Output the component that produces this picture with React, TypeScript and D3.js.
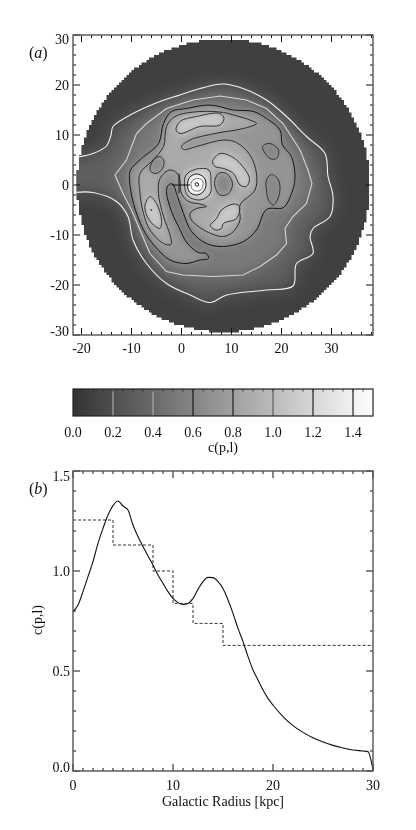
import React from "react";
import * as d3 from "d3";

type P = [number, number];

// contour traces in kpc
const contour02: P[] = [[-21.6,5.5],[-18,6.3],[-15.3,7.8],[-14.4,10],[-14,11.7],[-10,14.3],[-4.6,16.7],[-0.6,18],[3.4,19.3],[8,20.2],[12,19.3],[16.7,17],[20.7,13.7],[24.7,9.7],[28.4,6.3],[29,1.7],[30,-2.3],[29.4,-6.3],[26,-8.7],[25.4,-10.3],[26,-13.7],[22.7,-15.7],[22,-20.2],[16.7,-21],[8.7,-22],[5.4,-23.5],[1.4,-22],[-3.3,-19.7],[-7.3,-15.7],[-10,-11],[-11,-6.3],[-13.3,-3.3],[-18,-1.5],[-21.6,-1.5]];
const contour04: P[] = [[-13.6,2],[-11.3,5],[-9.3,10.3],[-7.3,12.3],[-3.3,15.3],[2,17],[7.4,17.8],[12.7,17],[16.7,15.3],[20,12.3],[23.4,7],[25,3],[25.8,0.3],[24.7,-3.7],[22,-6.3],[20.4,-8.7],[20.7,-11.7],[18.7,-14],[15.4,-16.3],[12,-18],[6,-18.3],[0,-18],[-3.3,-17.3],[-6.6,-13.7],[-8.6,-9],[-10.3,-5],[-12,-1.7]];
const contour06: P[] = [[-10.5,3],[-10.7,1],[-9.9,-3.7],[-7.9,-9],[-5.6,-12.3],[-2.6,-15],[0.7,-15.7],[3.4,-15],[5.1,-14.7],[4.7,-13.7],[3.1,-13.5],[0.9,-11.7],[-0.9,-8.3],[-2.3,-5.3],[-3.3,-1.3],[-2.9,0],[-2.1,0.2],[-1.1,-2.3],[0.1,-5.7],[1.7,-9.3],[4.7,-11.7],[8.1,-12.3],[12.1,-11.3],[14.7,-9],[16.7,-4.9],[20.1,-4.5],[21.7,-1.7],[22.4,1.3],[21.7,5.7],[19.9,8],[19.4,11],[16.7,13.3],[14.1,14.7],[10.1,15],[5.4,16],[0.7,15.3],[-2.3,14.7],[-3.9,12.3],[-4.9,8.3],[-8.3,5.3]];
const contour08: P[] = [[-4.9,-1.7],[-4.6,1.3],[-2.6,3],[-0.9,2],[-0.3,-1.7],[1.1,-3.3],[3.4,-3.8],[4.7,-4.3],[2.7,-4.7],[1.4,-5.7],[1.7,-7],[4.7,-9.3],[8.1,-10.3],[10.1,-9.3],[11.4,-7],[11.4,-4],[14.4,-1],[14.7,2.3],[13.4,6],[10.7,8.5],[8.1,9],[2.7,7.7],[0.1,7.1],[-0.3,7.7],[1.4,9],[6.4,10.3],[12.1,11.3],[14.7,12.3],[13.4,13],[10.1,14],[8.1,14.5],[3.4,14.7],[-1.6,13.7],[-3.3,11.7],[-3.9,7.7],[-6.3,4.7],[-8.6,2.3],[-8.6,-1.7],[-7.9,-5.7],[-6.6,-9],[-3.9,-11.7],[-2.4,-11.9],[-2.5,-10.3],[-3.9,-6.3]];
const holes: P[][] = [
  [[-6.6,3],[-5.9,5],[-4.6,5.7],[-3.8,4.7],[-4.3,3],[-5.6,2.3]],
  [[15.9,7.7],[17.4,8.3],[19.1,7],[18.7,5.3],[17.4,5.3]],
  [[16.7,1],[17.7,2.1],[19.1,1],[19.3,-1.7],[18.1,-4],[17.1,-3],[16.7,-1]],
  [[6.3,0.3],[7.1,2.3],[8.7,2.3],[9.9,0.3],[9.1,-1.7],[7.4,-2]],
];
const brights: P[][] = [
  [[-1.4,11],[-0.6,12.7],[2.7,13.7],[7.4,14.3],[8.2,13.3],[7.4,12],[3.4,11.7],[-0.6,10.3]],
  [[-7.6,-4],[-6.6,-2.3],[-5.3,-3.7],[-4.3,-7],[-4.6,-8.7],[-5.9,-8],[-7.3,-6]],
  [[5.9,4.7],[7.4,6.3],[9.7,5.7],[11.7,4],[13.3,1.3],[12.7,-0.3],[11.4,0],[10.1,2.3],[8.1,3.3],[6.4,3.7]],
  [[5.7,-7.7],[6.7,-6.7],[7.7,-5],[10.1,-3.8],[11.3,-4.3],[10.7,-6.7],[8.1,-7.7],[7.7,-8.7],[6.4,-9],[5.4,-8]],
];
const rings: P[][] = [
  [[0.3,0],[0.6,2],[2.7,3.2],[5.2,3],[5.6,0.5],[5.4,-1.8],[3.4,-3],[1,-2.2]],
  [[0.9,0],[1.3,1.5],[2.7,2.2],[4.2,1.5],[4.6,0],[4,-1.4],[2.7,-2],[1.3,-1.4]],
  [[1.6,0.1],[2,1],[2.9,1.3],[3.8,1],[4,0],[3.6,-1],[2.7,-1.2],[1.9,-0.9]],
  [[2.5,0.4],[3,0.4],[3.1,-0.1],[2.6,-0.2]],
];
const ringFillValues = [1.2, 1.4, 1.5, 1.5];
const ringStrokes = ["#333", "#111", "#777", "#111"];
const sunMarkH: P[] = [[-2.3,0],[1.4,0]];
const sunMarkV: P[] = [[-0.8,2.2],[-0.8,-1.7]];
const speck: P[] = [[-6.5,-4.9],[-6.2,-5.1]];

const discCentre: P = [8.1, -0.1];
const discRadius = 29.3;
const traceShift = 0.3; // traces were read 0.3 kpc west of the tick origin

// panel (b)
const radiusKpc = [0,0.5,1,1.5,2,2.5,3,3.5,4,4.5,5,5.5,6,6.5,7,7.5,8,8.5,9,9.5,10,10.5,11,11.5,12,12.5,13,13.5,14,14.5,15,15.5,16,16.5,17,17.5,18,18.5,19,19.5,20,21,22,23,24,25,26,27,28,29,29.5,30];
const contrast = [0.797,0.83,0.897,0.972,1.047,1.138,1.213,1.28,1.327,1.35,1.325,1.305,1.23,1.172,1.122,1.075,1.03,0.98,0.938,0.897,0.863,0.842,0.833,0.838,0.863,0.908,0.947,0.968,0.967,0.947,0.913,0.855,0.788,0.713,0.647,0.572,0.505,0.455,0.405,0.363,0.33,0.272,0.227,0.193,0.166,0.145,0.128,0.115,0.105,0.1,0.097,0.005];
const binEdges = [0,4,8,10,12,15,30];
const binValues = [1.255,1.13,1.0,0.838,0.738,0.628];

const barTicks = [0,0.2,0.4,0.6,0.8,1.0,1.2,1.4];
const barLevelColors = ["none","#b0b0b0","#b0b0b0","#111","#111","#555","#111","#111"];
const xTicksA = [-20,-10,0,10,20,30];
const yTicksA = [-30,-20,-10,0,10,20,30];
const xTicksB = [0,10,20,30];
const yTicksB = [0,0.5,1.0,1.5];

const FRAME = "#555";
const FONT = "'Liberation Serif', serif";
const TXT = "#111";

const xa = d3.scaleLinear().domain([-21.7, 38.3]).range([73, 373]);
const ya = d3.scaleLinear().domain([-30, 30]).range([335, 35]);
const xb = d3.scaleLinear().domain([0, 30]).range([73, 373]);
const yb = d3.scaleLinear().domain([0, 1.5]).range([771, 471]);
const xbar = d3.scaleLinear().domain([0, 1.5]).range([73, 373]);
const gray = d3.scaleLinear<string>().domain([0, 1.5]).range(["#333333", "#ffffff"]);

const px = (d: P) => xa(d[0] + traceShift);
const py = (d: P) => ya(d[1]);
const smooth = d3.line<P>().x(px).y(py).curve(d3.curveCatmullRomClosed.alpha(0.5));
const jagged = d3.line<P>().x(px).y(py).curve(d3.curveCatmullRom.alpha(0.5));
const closedJag = d3.line<P>().x(px).y(py).curve(d3.curveLinearClosed);
const straight = d3.line<P>().x(px).y(py);

// the map is built of 0.5 kpc cells, so the disc edge is a staircase
const CELL = 0.5;
const discPath = d3.range(-30, 30, CELL).map(v => {
  const mid = v + CELL / 2 - discCentre[1];
  if (Math.abs(mid) >= discRadius) return "";
  const half = Math.sqrt(discRadius * discRadius - mid * mid);
  const x0 = Math.round((discCentre[0] + traceShift - half) / CELL) * CELL;
  const x1 = Math.round((discCentre[0] + traceShift + half) / CELL) * CELL;
  return `M${xa(x0)} ${ya(v)}H${xa(x1)}V${ya(v + CELL)}H${xa(x0)}Z`;
}).join("");

function Frame({ x, y, mLen, nLen, xMajor, xMinor, yMajor, yMinor }: any) {
  const [x0, x1] = x.range();
  const [y0, y1] = y.range();
  const ticks: React.ReactElement[] = [];
  const add = (k: string, a: number, b: number, c: number, d: number) =>
    ticks.push(<line key={k} x1={a} y1={b} x2={c} y2={d} stroke="#111" strokeWidth={1} />);
  xMajor.forEach((t: number) => { add(`xb${t}`, x(t), y0, x(t), y0 - mLen); add(`xt${t}`, x(t), y1, x(t), y1 + mLen); });
  xMinor.forEach((t: number) => { add(`nxb${t}`, x(t), y0, x(t), y0 - nLen); add(`nxt${t}`, x(t), y1, x(t), y1 + nLen); });
  yMajor.forEach((t: number) => { add(`yl${t}`, x0, y(t), x0 + mLen, y(t)); add(`yr${t}`, x1, y(t), x1 - mLen, y(t)); });
  yMinor.forEach((t: number) => { add(`nyl${t}`, x0, y(t), x0 + nLen, y(t)); add(`nyr${t}`, x1, y(t), x1 - nLen, y(t)); });
  return (
    <g>
      {ticks}
      <rect x={x0} y={y1} width={x1 - x0} height={y0 - y1} fill="none" stroke={FRAME} strokeWidth={1.4} />
    </g>
  );
}

export default function App() {
  const curve = d3.line<number>()
    .x((_, i) => xb(radiusKpc[i]))
    .y(d => yb(d))
    .curve(d3.curveMonotoneX)(contrast) as string;
  const steps = d3.line<P>().x(d => xb(d[0])).y(d => yb(d[1])).curve(d3.curveStepAfter)(
    [...binValues.map((v, i) => [binEdges[i], v] as P), [binEdges[binEdges.length - 1], binValues[binValues.length - 1]] as P]
  ) as string;

  const text = { fontFamily: FONT, fontSize: 14, fill: TXT } as const;
  const barStops = d3.range(0, 1.5001, 0.25);

  return (
    <svg width={416} height={830} style={{ position: "absolute", left: 0, top: 0, display: "block", background: "#fff" }}>
      <defs>
        <clipPath id="disc"><path d={discPath} /></clipPath>
        <filter id="wide" x="-30%" y="-30%" width="160%" height="160%"><feGaussianBlur stdDeviation={8} /></filter>
        <filter id="soft" x="-20%" y="-20%" width="140%" height="140%"><feGaussianBlur stdDeviation={3.6} /></filter>
        <filter id="jpeg" x="0" y="0" width="100%" height="100%" filterUnits="userSpaceOnUse"><feGaussianBlur stdDeviation={0.4} /></filter>
        <linearGradient id="ramp">
          {barStops.map(v => <stop key={v} offset={v / 1.5} stopColor={gray(v)} />)}
        </linearGradient>
      </defs>

      <g filter="url(#jpeg)">
        <rect width={416} height={830} fill="#fff" />
        {/* panel a */}
        <g clipPath="url(#disc)">
          <rect x={73} y={35} width={300} height={300} fill={gray(0.1)} />
          <g filter="url(#wide)">
            <path d={closedJag([...contour02, [-30, -1.5], [-30, 5.5]]) as string} fill={gray(0.32)} />
            <path d={closedJag(contour04) as string} fill={gray(0.52)} />
          </g>
          <g filter="url(#soft)">
            <path d={smooth(contour06) as string} fill={gray(0.72)} />
            <path d={smooth(contour08) as string} fill={gray(0.88)} />
            {holes.map((h, i) => <path key={i} d={smooth(h) as string} fill={gray(0.62)} />)}
            {brights.map((h, i) => <path key={i} d={smooth(h) as string} fill={gray(1.12)} />)}
          </g>
          <g filter="url(#soft)">
            {rings.slice(0, 1).map((h, i) => <path key={i} d={smooth(h) as string} fill={gray(ringFillValues[i])} />)}
          </g>
          {rings.slice(1).map((h, i) => <path key={i} d={smooth(h) as string} fill={gray(ringFillValues[i + 1])} />)}
          <g fill="none">
            <path d={jagged(contour02) as string} stroke="#f2f2f2" strokeWidth={1.1} />
            <path d={closedJag(contour04) as string} stroke="#d4d4d4" strokeWidth={1.1} />
            <path d={smooth(contour06) as string} stroke="#151515" strokeWidth={1} />
            <path d={smooth(contour08) as string} stroke="#2c2c2c" strokeWidth={1} />
            {holes.map((h, i) => <path key={i} d={smooth(h) as string} stroke="#333" strokeWidth={1} />)}
            {brights.map((h, i) => <path key={i} d={smooth(h) as string} stroke="#333" strokeWidth={1} />)}
            {rings.map((h, i) => <path key={i} d={smooth(h) as string} stroke={ringStrokes[i]} strokeWidth={1} />)}
            <path d={straight(sunMarkH) as string} stroke="#111" />
            <path d={straight(sunMarkV) as string} stroke="#111" />
            <path d={straight(speck) as string} stroke="#222" strokeWidth={1.5} />
          </g>
        </g>
        <Frame x={xa} y={ya} mLen={7} nLen={3} xMajor={xTicksA} xMinor={d3.range(-20, 38.1, 2).filter(t => t % 10 !== 0)} yMajor={yTicksA} yMinor={d3.range(-30, 30.1, 2).filter(t => t % 10 !== 0)} />
        {xTicksA.map(t => <text key={t} x={xa(t)} y={352.5} textAnchor="middle" {...text}>{t}</text>)}
        {yTicksA.map(t => <text key={t} x={69} y={ya(t) + 4.5 + (t === 30 ? 4 : t === -30 ? -4 : 0)} textAnchor="end" {...text}>{t}</text>)}
        <text x={29} y={58} {...text} fontSize={16}>(<tspan fontStyle="italic">a</tspan>)</text>

        {/* colour bar */}
        <rect x={xbar(0)} y={389} width={xbar(1.5) - xbar(0)} height={27} fill="url(#ramp)" />
        {barTicks.map((t, i) => t > 0 ? <line key={t} x1={xbar(t)} x2={xbar(t)} y1={389} y2={416} stroke={barLevelColors[i]} strokeWidth={1.1} /> : null)}
        {d3.range(0.05, 1.5, 0.05).map(t => <line key={t} x1={xbar(t)} x2={xbar(t)} y1={389} y2={391.5} stroke="#222" strokeWidth={0.8} />)}
        <rect x={73} y={389} width={300} height={27} fill="none" stroke="#222" strokeWidth={1.2} />
        {barTicks.map(t => <text key={t} x={xbar(t)} y={436.5} textAnchor="middle" {...text}>{t.toFixed(1)}</text>)}
        <text x={223} y={452} textAnchor="middle" {...text}>c(p,l)</text>

        {/* panel b */}
        <path d={steps} fill="none" stroke="#333" strokeWidth={1} strokeDasharray="3 2" />
        <path d={curve} fill="none" stroke="#111" strokeWidth={1.1} />
        <Frame x={xb} y={yb} mLen={7} nLen={3} xMajor={xTicksB} xMinor={d3.range(0, 30.1, 1).filter(t => t % 10 !== 0)} yMajor={yTicksB} yMinor={d3.range(0, 1.51, 0.1).map(v => +v.toFixed(1)).filter(t => Math.round(t * 10) % 5 !== 0)} />
        {xTicksB.map(t => <text key={t} x={xb(t)} y={790} textAnchor="middle" {...text}>{t}</text>)}
        {yTicksB.map(t => <text key={t} x={70} y={yb(t) + 4.5 + (t === 1.5 ? 5 : t === 0 ? -4 : 0)} textAnchor="end" {...text}>{t.toFixed(1)}</text>)}
        <text x={223} y={805.5} textAnchor="middle" {...text}>Galactic Radius [kpc]</text>
        <text transform="translate(42,620) rotate(-90)" textAnchor="middle" {...text}>c(p,l)</text>
        <text x={29} y={494} {...text} fontSize={16}>(<tspan fontStyle="italic">b</tspan>)</text>
      </g>
    </svg>
  );
}
